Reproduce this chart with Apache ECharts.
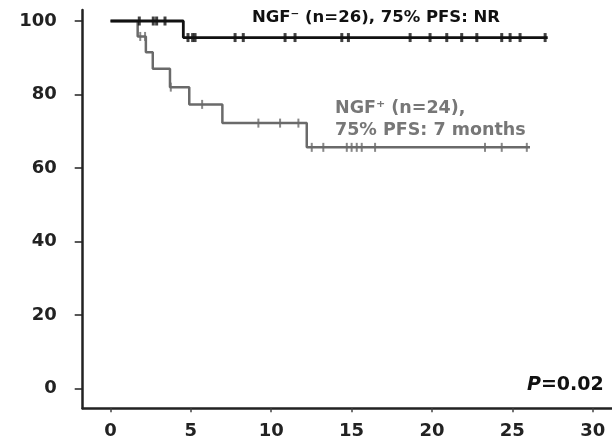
<!DOCTYPE html>
<html>
<head>
<meta charset="utf-8">
<script src="https://cdn.jsdelivr.net/npm/echarts@6/dist/echarts.min.js"></script>
<style>
  html, body { margin: 0; padding: 0; background: #fff; }
  #chart { width: 612px; height: 443px; }
</style>
</head>
<body>
<div id="chart"></div>
<script>
// Kaplan-Meier steps: [month, % progression-free]
var ngfNegSteps = [[0, 100], [4.53, 95.5], [27.2, 95.5]];
var ngfPosSteps = [[0, 100], [1.69, 95.8], [2.2, 91.5], [2.63, 87], [3.7, 82], [4.9, 77.3], [6.96, 72.2], [12.21, 65.6], [26.1, 65.6]];

// censored patients (tick marks)
var ngfNegCensor = [[1.79, 100], [2.66, 100], [2.87, 100], [3.39, 100], [4.82, 95.5], [5.11, 95.5], [5.26, 95.5],
    [7.75, 95.5], [8.26, 95.5], [10.86, 95.5], [11.48, 95.5], [14.39, 95.5], [14.8, 95.5], [18.64, 95.5],
    [19.88, 95.5], [20.92, 95.5], [21.85, 95.5], [22.79, 95.5], [24.34, 95.5], [24.86, 95.5], [25.48, 95.5], [27.04, 95.5]];
var ngfPosCensor = [[1.85, 95.8], [2.15, 95.8], [3.75, 82], [5.7, 77.3], [9.2, 72.2], [10.55, 72.2], [11.69, 72.2],
    [12.52, 65.6], [13.24, 65.6], [14.7, 65.6], [15.0, 65.6], [15.32, 65.6], [15.63, 65.6], [16.46, 65.6],
    [23.3, 65.6], [24.34, 65.6], [25.9, 65.6]];

var xTicks = [0, 5, 10, 15, 20, 25, 30];
var yTicks = [0, 20, 40, 60, 80, 100];

var chart = echarts.init(document.getElementById('chart'));

var axisFont = { fontFamily: 'DejaVu Sans', fontWeight: 'bold', fontSize: 18, color: '#222' };

var option = {
    animation: false,
    grid: { left: 82.7, right: 0, top: 10, bottom: 34.7 },
    xAxis: {
        type: 'value',
        min: -1.73,
        max: 31.2,
        splitLine: { show: false },
        axisLine: { onZero: false, lineStyle: { color: '#222', width: 2.5 } },
        axisTick: { customValues: xTicks, length: 4, lineStyle: { color: '#444', width: 1.5 } },
        axisLabel: Object.assign({ customValues: xTicks, margin: 14 }, axisFont)
    },
    yAxis: {
        type: 'value',
        min: -5.45,
        max: 103,
        splitLine: { show: false },
        axisLine: { show: true, onZero: false, lineStyle: { color: '#222', width: 2.5 } },
        axisTick: { show: true, customValues: yTicks, length: 8, lineStyle: { color: '#222', width: 1.5 } },
        axisLabel: Object.assign({ customValues: yTicks, margin: 26 }, axisFont)
    },
    series: [
        {
            name: 'NGF+',
            type: 'line',
            step: 'end',
            symbol: 'none',
            data: ngfPosSteps,
            lineStyle: { color: '#6a6a6a', width: 2.5 },
            z: 2
        },
        {
            name: 'NGF-',
            type: 'line',
            step: 'end',
            symbol: 'none',
            data: ngfNegSteps,
            lineStyle: { color: '#111', width: 2.8 },
            z: 3
        },
        {
            type: 'scatter',
            symbol: 'rect',
            symbolSize: [2, 9],
            data: ngfPosCensor,
            itemStyle: { color: '#6a6a6a' },
            z: 2
        },
        {
            type: 'scatter',
            symbol: 'rect',
            symbolSize: [3, 9],
            data: ngfNegCensor,
            itemStyle: { color: '#111' },
            z: 4
        }
    ],
    graphic: [
        {
            type: 'text', left: 252, top: 9,
            style: { text: 'NGF⁻ (n=26), 75% PFS: NR', fill: '#111', font: 'bold 16.5px "DejaVu Sans"' }
        },
        {
            type: 'text', left: 335, top: 97,
            style: { text: 'NGF⁺ (n=24),\n75% PFS: 7 months', fill: '#777', font: 'bold 17.5px "DejaVu Sans"', lineHeight: 22 }
        },
        {
            type: 'text', left: 527, top: 376,
            style: {
                text: '{p|P}{r|=0.02}',
                rich: {
                    p: { fill: '#111', font: 'italic bold 19px "DejaVu Sans"' },
                    r: { fill: '#111', font: 'bold 19px "DejaVu Sans"' }
                }
            }
        }
    ]
};

chart.setOption(option);
</script>
</body>
</html>
